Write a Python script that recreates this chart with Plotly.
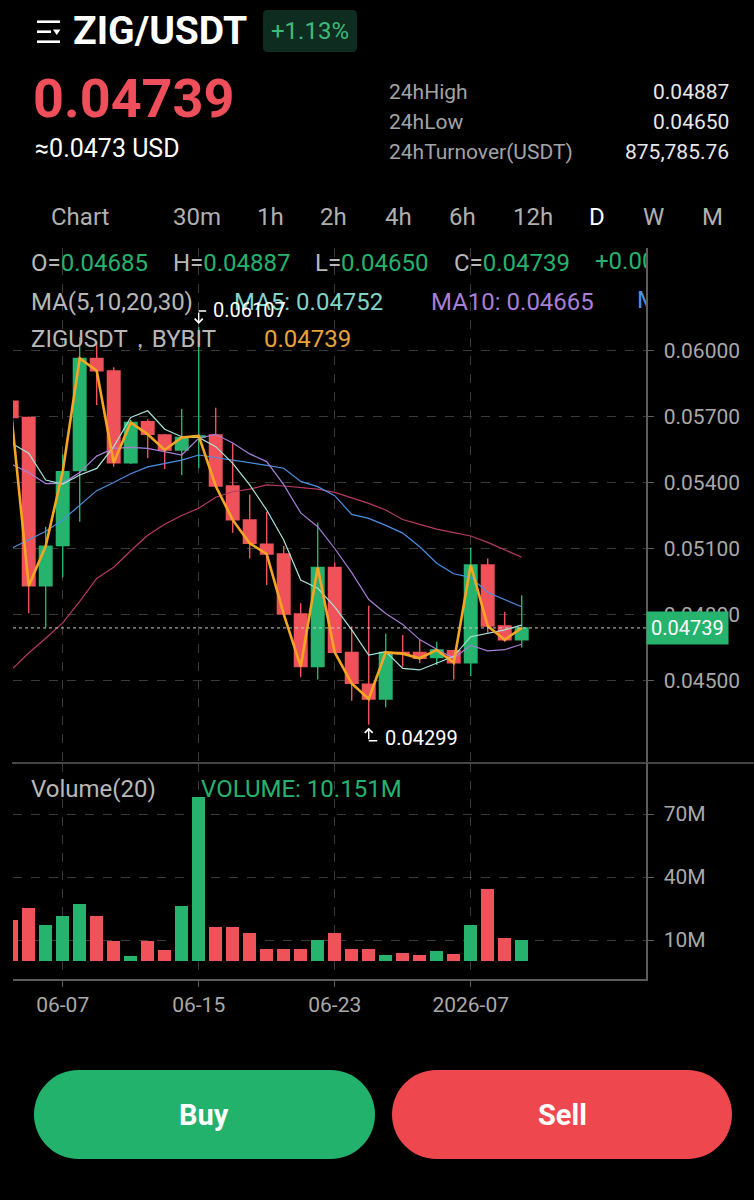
import plotly.graph_objects as go
import pandas as pd

# ---------------- data ----------------
dates = ["2026-06-04", "2026-06-05", "2026-06-06", "2026-06-07", "2026-06-08", "2026-06-09",
         "2026-06-10", "2026-06-11", "2026-06-12", "2026-06-13", "2026-06-14", "2026-06-15",
         "2026-06-16", "2026-06-17", "2026-06-18", "2026-06-19", "2026-06-20", "2026-06-21",
         "2026-06-22", "2026-06-23", "2026-06-24", "2026-06-25", "2026-06-26", "2026-06-27",
         "2026-06-28", "2026-06-29", "2026-06-30", "2026-07-01", "2026-07-02", "2026-07-03",
         "2026-07-04"]
opens = [0.05770, 0.05696, 0.04930, 0.05113, 0.05454, 0.05964, 0.05907, 0.05490, 0.05676, 0.05616,
         0.05548, 0.05605, 0.05616, 0.05384, 0.05230, 0.05120, 0.05075, 0.04802, 0.04563, 0.05014,
         0.04628, 0.04483, 0.04416, 0.04628, 0.04628, 0.04604, 0.04636, 0.04581, 0.05025, 0.04748,
         0.04685]
highs = [0.05775, 0.05700, 0.05199, 0.05528, 0.06060, 0.06040, 0.05924, 0.05684, 0.05687, 0.05620,
         0.05734, 0.06107, 0.05740, 0.05578, 0.05346, 0.05267, 0.05111, 0.04851, 0.05217, 0.05036,
         0.04745, 0.04840, 0.04714, 0.04707, 0.04684, 0.04676, 0.04640, 0.05105, 0.05055, 0.04813,
         0.04887]
lows = [0.05690, 0.04806, 0.04742, 0.04969, 0.05222, 0.05752, 0.05472, 0.05484, 0.05510, 0.05461,
        0.05434, 0.05465, 0.05375, 0.05172, 0.05055, 0.04934, 0.04800, 0.04515, 0.04505, 0.04625,
        0.04408, 0.04299, 0.04378, 0.04563, 0.04578, 0.04570, 0.04505, 0.04520, 0.04717, 0.04676,
        0.04650]
closes = [0.05695, 0.04930, 0.05111, 0.05449, 0.05964, 0.05908, 0.05490, 0.05673, 0.05619, 0.05548,
          0.05605, 0.05612, 0.05384, 0.05230, 0.05124, 0.05075, 0.04802, 0.04563, 0.05014, 0.04628,
          0.04487, 0.04416, 0.04628, 0.04622, 0.04601, 0.04639, 0.04581, 0.05025, 0.04748, 0.04685,
          0.04739]
volumes_m = [19.4, 25.4, 17.3, 21.3, 27.3, 21.3, 9.4, 2.2, 9.4, 5.1, 26.2, 78.1, 16.2, 16.2, 13.3,
             5.9, 5.9, 5.9, 10.2, 13.3, 5.9, 5.9, 3.0, 4.0, 3.0, 4.9, 3.2, 17.3, 34.4, 11.1, 10.151]
ma5 = [0.05578, 0.05533, 0.05411, 0.05393, 0.05434, 0.05464, 0.05563, 0.05696, 0.05726, 0.05642,
       0.05608, 0.05605, 0.05563, 0.05487, 0.05389, 0.05275, 0.05139, 0.04957, 0.04919, 0.04835,
       0.04730, 0.04616, 0.04631, 0.04555, 0.04548, 0.04578, 0.04610, 0.04699, 0.04714, 0.04730,
       0.04752]
ma10 = [0.05483, 0.05445, 0.05395, 0.05396, 0.05445, 0.05520, 0.05555, 0.05560, 0.05555, 0.05540,
        0.05525, 0.05601, 0.05619, 0.05580, 0.05530, 0.05495, 0.05390, 0.05262, 0.05199, 0.05100,
        0.04990, 0.04868, 0.04805, 0.04755, 0.04686, 0.04642, 0.04601, 0.04660, 0.04635, 0.04640,
        0.04665]
ma20 = [0.05101, 0.05140, 0.05178, 0.05230, 0.05295, 0.05363, 0.05400, 0.05440, 0.05471, 0.05487,
        0.05502, 0.05525, 0.05514, 0.05502, 0.05490, 0.05478, 0.05465, 0.05405, 0.05381, 0.05340,
        0.05255, 0.05237, 0.05205, 0.05170, 0.05108, 0.05033, 0.04985, 0.04969, 0.04900, 0.04868,
        0.04835]
ma30 = [0.04550, 0.04625, 0.04692, 0.04762, 0.04860, 0.04964, 0.05015, 0.05090, 0.05160, 0.05210,
        0.05250, 0.05283, 0.05333, 0.05358, 0.05370, 0.05389, 0.05384, 0.05378, 0.05370, 0.05355,
        0.05330, 0.05305, 0.05275, 0.05232, 0.05210, 0.05188, 0.05172, 0.05157, 0.05128, 0.05095,
        0.05060]

price_ticks = [0.045, 0.048, 0.051, 0.054, 0.057, 0.060]
vol_ticks = [10, 40, 70]
vol_tick_text = ["10M", "40M", "70M"]
x_tick_dates = ["2026-06-07", "2026-06-15", "2026-06-23", "2026-07-01"]
x_tick_text = ["06-07", "06-15", "06-23", "2026-07"]
tabs = ["Chart", "30m", "1h", "2h", "4h", "6h", "12h", "D", "W", "M"]
stat_labels = ["24hHigh", "24hLow", "24hTurnover(USDT)"]
stat_values = [f"{highs[-1]:.5f}", f"{lows[-1]:.5f}", "875,785.76"]

# ---------------- style ----------------
W, H = 754, 1200
FONT = "Roboto"
GREEN = "#25b36e"
RED = "#f0525a"
GRAY = "#a9a9a9"
GRID = "#3a3a3a"
AXIS = "#5c5c5c"
ORANGE = "#f5a524"
C_MA5 = "#a9e4dc"
C_MA10 = "#a77fd6"
C_MA20 = "#4a90e2"
C_MA30 = "#b73a63"


def X(px):
    return px / W


def Y(py):
    return 1 - py / H


x_dom = [X(13), X(646)]
price_dom = [Y(762), Y(248)]
vol_dom = [Y(979), Y(763)]

t0 = pd.Timestamp(dates[0])
x_range = [str(t0 + pd.Timedelta(days=0.0765)), str(t0 + pd.Timedelta(days=37.31))]
price_range = [0.06 - (762 - 350.5) / 22000, 0.06 + (350.5 - 248) / 22000]
vol_range = [-(979 - 961) / 2.1, (961 - 763) / 2.1]

fig = go.Figure()

fig.add_trace(go.Candlestick(
    x=dates, open=opens, high=highs, low=lows, close=closes,
    increasing=dict(line=dict(color=GREEN, width=1.4), fillcolor=GREEN),
    decreasing=dict(line=dict(color=RED, width=1.4), fillcolor=RED),
    whiskerwidth=0, showlegend=False, hoverinfo="skip", xaxis="x", yaxis="y"))

for vals, col, w in [(ma30, C_MA30, 1.2), (ma20, C_MA20, 1.2), (ma10, C_MA10, 1.2), (ma5, C_MA5, 1.2)]:
    fig.add_trace(go.Scatter(x=dates, y=vals, mode="lines", line=dict(color=col, width=w),
                             showlegend=False, hoverinfo="skip", xaxis="x", yaxis="y"))

fig.add_trace(go.Scatter(x=dates, y=closes, mode="lines", line=dict(color=ORANGE, width=2.6),
                         showlegend=False, hoverinfo="skip", xaxis="x", yaxis="y"))

vol_colors = [GREEN if c >= o else RED for o, c in zip(opens, closes)]
fig.add_trace(go.Bar(x=dates, y=volumes_m, marker=dict(color=vol_colors, line=dict(width=0)),
                     width=0.735 * 86400000, showlegend=False, hoverinfo="skip",
                     xaxis="x2", yaxis="y2"))

# clipped header texts (overlay pixel axes so the text is cut at the plot edge)
fig.add_trace(go.Scatter(
    x=[595, 637], y=[263, 301.7], mode="text",
    text=[f"+{closes[-1] - opens[-1]:.5f}", f"MA20: {ma20[-1]:.5f}"],
    textposition="middle right",
    textfont=dict(family=FONT, size=24, color=[GREEN, C_MA20]),
    cliponaxis=True, showlegend=False, hoverinfo="skip", xaxis="x3", yaxis="y3"))

axis_common = dict(zeroline=False, fixedrange=True)
fig.update_layout(
    width=W, height=H, margin=dict(l=0, r=0, t=0, b=0),
    paper_bgcolor="#000000", plot_bgcolor="rgba(0,0,0,0)",
    font=dict(family=FONT, color=GRAY),
    hovermode=False, dragmode=False, boxgap=0.26, boxgroupgap=0, bargap=0,
    xaxis=dict(domain=x_dom, type="date", range=x_range, anchor="y",
               rangeslider=dict(visible=False), tickvals=x_tick_dates, showticklabels=False,
               ticks="", showgrid=True, gridcolor=GRID, griddash="dash", gridwidth=1,
               showline=False, **axis_common),
    yaxis=dict(domain=price_dom, range=price_range, side="right", anchor="x",
               tickvals=price_ticks, tickformat=".5f", ticks="outside", ticklen=6,
               tickcolor=AXIS, tickfont=dict(family=FONT, size=21, color=GRAY),
               ticklabelstandoff=6,
               showgrid=True, gridcolor=GRID, griddash="dash", showline=True,
               linecolor=AXIS, linewidth=1.5, **axis_common),
    xaxis2=dict(domain=x_dom, type="date", range=x_range, anchor="y2",
                tickvals=x_tick_dates, ticktext=x_tick_text, ticks="outside", ticklen=6,
                tickcolor=AXIS, tickfont=dict(family=FONT, size=21, color=GRAY),
                showgrid=True, gridcolor=GRID, griddash="dash", showline=True,
                linecolor=AXIS, linewidth=1.5, **axis_common),
    yaxis2=dict(domain=vol_dom, range=vol_range, side="right", anchor="x2",
                tickvals=vol_ticks, ticktext=vol_tick_text, ticks="outside", ticklen=6,
                tickcolor=AXIS, tickfont=dict(family=FONT, size=21, color=GRAY),
                ticklabelstandoff=6,
                showgrid=True, gridcolor=GRID, griddash="dash", showline=True,
                linecolor=AXIS, linewidth=1.5, **axis_common),
    xaxis3=dict(domain=x_dom, range=[13, 646], anchor="y3", visible=False, **axis_common),
    yaxis3=dict(domain=price_dom, range=[762, 248], anchor="x3", visible=False, **axis_common),
)

shapes = []
# separator between price and volume panes
shapes.append(dict(type="line", xref="paper", yref="paper", x0=X(12), x1=1, y0=Y(763), y1=Y(763),
                   line=dict(color=AXIS, width=1.5)))
# current price dotted line
shapes.append(dict(type="line", xref="paper", yref="y", x0=x_dom[0], x1=x_dom[1],
                   y0=closes[-1], y1=closes[-1], line=dict(color="#c8c8c8", width=1, dash="dot")))
# hamburger icon
for yy, xe in [(21.7, 60), (31.7, 51), (41.7, 60)]:
    shapes.append(dict(type="line", xref="paper", yref="paper", x0=X(37), x1=X(xe), y0=Y(yy), y1=Y(yy),
                       line=dict(color="white", width=2.6)))
shapes.append(dict(type="path", xref="paper", yref="paper",
                   path=f"M {X(53)},{Y(29.5)} L {X(60.5)},{Y(29.5)} L {X(56.7)},{Y(35)} Z",
                   fillcolor="white", line=dict(width=0)))


def rounded(x0, y0, x1, y1, r):
    k = 0.5523 * r
    return (f"M {X(x0 + r)},{Y(y0)} L {X(x1 - r)},{Y(y0)} "
            f"C {X(x1 - r + k)},{Y(y0)} {X(x1)},{Y(y0 + r - k)} {X(x1)},{Y(y0 + r)} "
            f"L {X(x1)},{Y(y1 - r)} "
            f"C {X(x1)},{Y(y1 - r + k)} {X(x1 - r + k)},{Y(y1)} {X(x1 - r)},{Y(y1)} "
            f"L {X(x0 + r)},{Y(y1)} "
            f"C {X(x0 + r - k)},{Y(y1)} {X(x0)},{Y(y1 - r + k)} {X(x0)},{Y(y1 - r)} "
            f"L {X(x0)},{Y(y0 + r)} "
            f"C {X(x0)},{Y(y0 + r - k)} {X(x0 + r - k)},{Y(y0)} {X(x0 + r)},{Y(y0)} Z")


shapes.append(dict(type="path", xref="paper", yref="paper", path=rounded(263, 10, 357, 52, 4),
                   fillcolor="#0e2c1f", line=dict(width=0)))
shapes.append(dict(type="path", xref="paper", yref="paper", path=rounded(34, 1070, 375, 1159, 44.5),
                   fillcolor="#22b26c", line=dict(width=0)))
shapes.append(dict(type="path", xref="paper", yref="paper", path=rounded(392, 1070, 732, 1159, 44.5),
                   fillcolor="#ef474e", line=dict(width=0)))
fig.update_layout(shapes=shapes)

ann = []


def text(t, x, y, size, color, anchor="left", bold=False):
    ann.append(dict(text=f"<b>{t}</b>" if bold else t, x=X(x), y=Y(y), xref="paper", yref="paper",
                    xanchor=anchor, yanchor="middle", showarrow=False,
                    font=dict(family=FONT, size=size, color=color)))


def span(t, c):
    return f"<span style='color:{c}'>{t}</span>"


# header
text("ZIG/USDT", 71, 31, 39, "white", bold=True)
text("+1.13%", 310, 31, 24, "#3dbb7d", anchor="center")
text(f"{closes[-1]:.5f}", 31, 98, 54, "#ef4f5a", bold=True)
text("≈0.0473 USD", 33, 149, 25, "white")
for i, (lab, val) in enumerate(zip(stat_labels, stat_values)):
    yy = 92 + 30 * i
    text(lab, 387, yy, 21, "#a3a3a3")
    text(val, 731, yy, 21, "#e8e8e8", anchor="right")

tab_x = [80, 197, 270, 333, 398, 463, 533, 597, 653, 712]
for lab, xx in zip(tabs, tab_x):
    text(lab, xx, 216.5, 24, "white" if lab == "D" else "#b0b0b0", anchor="center")

# OHLC row
gtxt = "#b8b8b8"
text(span("O=", gtxt) + span(f"{opens[-1]:.5f}", GREEN), 29, 263, 24, GRAY)
text(span("H=", gtxt) + span(f"{highs[-1]:.5f}", GREEN), 171, 263, 24, GRAY)
text(span("L=", gtxt) + span(f"{lows[-1]:.5f}", GREEN), 313, 263, 24, GRAY)
text(span("C=", gtxt) + span(f"{closes[-1]:.5f}", GREEN), 452, 263, 24, GRAY)
# MA row
text("MA(5,10,20,30)", 29, 301.7, 24, gtxt)
text(f"MA5: {ma5[-1]:.5f}", 232, 301.7, 24, "#80d4c8")
text(f"MA10: {ma10[-1]:.5f}", 429, 301.7, 24, C_MA10)
# symbol row
text("ZIGUSDT，BYBIT", 29, 339, 24, gtxt)
text(f"{closes[-1]:.5f}", 262, 339, 24, "#e8a33b")
# volume header
text("Volume(20)", 29, 789, 24, gtxt)
text(f"VOLUME: {volumes_m[-1]:.3f}M", 199, 789, 24, GREEN)
# buttons
text("Buy", 204, 1115, 29, "white", anchor="center", bold=True)
text("Sell", 562, 1115, 29, "white", anchor="center", bold=True)

# current price tag
ann.append(dict(text=f"{closes[-1]:.5f}", x=x_dom[1], y=closes[-1], xref="paper", yref="y",
                xanchor="left", yanchor="middle", showarrow=False, bgcolor=GREEN, borderpad=4,
                font=dict(family=FONT, size=20, color="white")))

# max / min markers
imax = max(range(len(highs)), key=lambda i: highs[i])
imin = min(range(len(lows)), key=lambda i: lows[i])
hx, hy = dates[imax], highs[imax]
lx, ly = dates[imin], lows[imin]
arrow = dict(xref="x", yref="y", text="", showarrow=True, arrowcolor="white", arrowwidth=1.4)
ann.append(dict(arrow, x=hx, y=hy, ax=0, ay=-13, arrowhead=4, arrowsize=1.1, yshift=3))
ann.append(dict(arrow, x=hx, y=hy, ax=9, ay=0, arrowhead=0, yshift=16))
ann.append(dict(x=hx, y=hy, xref="x", yref="y", text=f"{hy:.5f}", showarrow=False, xanchor="left",
                yanchor="middle", xshift=12, yshift=17, font=dict(family=FONT, size=20, color="white")))
ann.append(dict(arrow, x=lx, y=ly, ax=0, ay=13, arrowhead=4, arrowsize=1.1, yshift=-3))
ann.append(dict(arrow, x=lx, y=ly, ax=10, ay=0, arrowhead=0, yshift=-16))
ann.append(dict(x=lx, y=ly, xref="x", yref="y", text=f"{ly:.5f}", showarrow=False, xanchor="left",
                yanchor="middle", xshift=14, yshift=-13, font=dict(family=FONT, size=20, color="white")))

fig.update_layout(annotations=ann)

fig.write_html("out.html", config={"displayModeBar": False, "staticPlot": True})
